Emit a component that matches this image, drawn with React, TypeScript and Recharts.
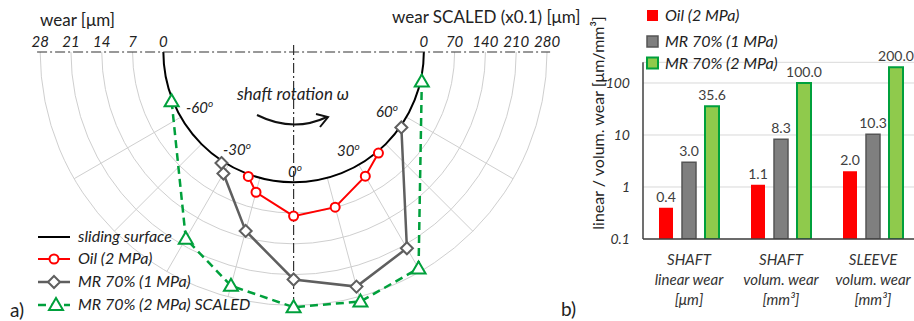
import React from 'react';
import {
  LineChart, Line, XAxis, YAxis, ReferenceLine, RadarChart, PolarGrid,
  BarChart, Bar, CartesianGrid, LabelList,
} from 'recharts';

const FONT = 'Lato, "Open Sans", sans-serif';

// polar wear plot: angle from the bottom (deg), wear outward from the sliding surface
const R0 = 29.6; // sliding surface radius, in wear units
const PX = 4.4; // px per wear unit
const CX = 293.6;
const CY = 52;
const LW = 600;
const H = 321;

const wearTicks = [28, 21, 14, 7, 0];
const scaledTicks = [0, 70, 140, 210, 280];
const gridRings = [7, 14, 21, 28];
const spokeAngles = [-60, -45, -30, -15, 15, 30, 45, 60];

const oilAngle = [-20, -15, 0, 15, 30, 40];
const oilWear = [0.5, 3.4, 7.7, 6.9, 3.0, 0.4];
const mr1Angle = [-33, -30, -15, 0, 15, 30, 55];
const mr1Wear = [0.5, 2.3, 12.5, 22.1, 25.6, 21.9, 0.3];
const mr2Angle = [-68, -30, -15, 0, 15, 30, 77];
const mr2WearScaled = [3, 194, 254, 284, 291, 272, 3];

// bar chart
const catLine1 = ['SHAFT', 'SHAFT', 'SLEEVE'];
const catLine2 = ['linear wear', 'volum. wear', 'volum. wear'];
const catLine3 = ['[μm]', '[mm³]', '[mm³]'];
const oilBar = [0.4, 1.1, 2.0];
const mr1Bar = [3.0, 8.3, 10.3];
const mr2Bar = [35.6, 100.0, 200.0];
const logTicks = [0.1, 1, 10, 100];
const logTickText = ['0.1', '1', '10', '100'];

const toXY = (angles: number[], wear: number[], k = 1) =>
  angles.map((a, i) => {
    const r = R0 + wear[i] * k;
    const t = (a * Math.PI) / 180;
    return { x: r * Math.sin(t), y: -r * Math.cos(t) };
  });

const oilData = toXY(oilAngle, oilWear);
const mr1Data = toXY(mr1Angle, mr1Wear);
const mr2Data = toXY(mr2Angle, mr2WearScaled, 0.1);

const topTicks = [...wearTicks.map((w) => -(R0 + w)), ...scaledTicks.map((w) => R0 + w / 10)];
const topTickText = [...wearTicks, ...scaledTicks].map(String);

const barData = catLine1.map((c, i) => ({
  cat: `${c} ${catLine2[i]}`,
  oil: oilBar[i],
  mr1: mr1Bar[i],
  mr2: mr2Bar[i],
}));

const RED = '#ff0000';
const GRAY = '#5f5f5f';
const GREEN = '#00a03c';

const Circle = (p: any) => (
  <circle key={p.index} cx={p.cx} cy={p.cy} r={4.5} fill="#fff" stroke={RED} strokeWidth={2} />
);
const Diamond = (p: any) => (
  <polygon
    key={p.index}
    points={`${p.cx},${p.cy - 6} ${p.cx + 6},${p.cy} ${p.cx},${p.cy + 6} ${p.cx - 6},${p.cy}`}
    fill="#fff" stroke={GRAY} strokeWidth={2}
  />
);
const Triangle = (p: any) => (
  <polygon
    key={p.index}
    points={`${p.cx},${p.cy - 7} ${p.cx + 7},${p.cy + 5} ${p.cx - 7},${p.cy + 5}`}
    fill="#fff" stroke={GREEN} strokeWidth={2}
  />
);

const CatTick = (props: any) => {
  const { x, y, index } = props;
  return (
    <g>
      {[catLine1, catLine2, catLine3].map((arr, k) => (
        <text key={k} x={x} y={y + 26 + k * 20} textAnchor="middle" fontSize={15}
          fontStyle="italic" fill="#333" fontFamily={FONT}>
          {arr[index]}
        </text>
      ))}
    </g>
  );
};

const deg = (x: number, y: number, s: string) => (
  <text x={x} y={y} fontSize={15} fontStyle="italic" fill="#222">
    {s}
    <tspan dy={-6} fontSize={10}>o</tspan>
  </text>
);

export default function App() {
  const dashDot = '10 3 2 3';
  return (
    <div style={{ position: 'fixed', left: 0, top: 0, width: 914, height: H, overflow: 'hidden', background: '#fff', fontFamily: FONT }}>
      {/* polar grid + sliding surface */}
      <div style={{ position: 'absolute', left: 0, top: CY, width: LW, height: H - CY, overflow: 'hidden' }}>
        <RadarChart width={LW} height={H - CY} cx={CX} cy={0} innerRadius={R0 * PX}
          outerRadius={(R0 + 28) * PX} margin={{ top: 0, right: 0, bottom: 0, left: 0 }} data={[{ a: 1 }]}>
          <PolarGrid gridType="circle" polarRadius={gridRings.map((w) => (R0 + w) * PX)}
            polarAngles={spokeAngles.map((a) => a - 90)} stroke="#cfcfcf" strokeWidth={1} />
          <PolarGrid gridType="circle" polarRadius={[R0 * PX]} polarAngles={[]} radialLines={false}
            stroke="#000" strokeWidth={2} />
        </RadarChart>
      </div>

      {/* wear profiles */}
      <div style={{ position: 'absolute', left: 0, top: 0 }}>
        <LineChart width={LW} height={H} margin={{ top: 0, right: 0, bottom: 0, left: 0 }}>
          <XAxis type="number" dataKey="x" orientation="top" height={CY}
            domain={[-CX / PX, (LW - CX) / PX]} allowDataOverflow ticks={topTicks} interval={0}
            axisLine={false} tickLine={false} tickSize={0} tickMargin={5}
            tick={{ fontSize: 15, fontStyle: 'italic', fill: '#222', fontFamily: FONT }}
            tickFormatter={(v: number) => topTickText[topTicks.findIndex((t) => Math.abs(t - v) < 1e-6)]} />
          <YAxis type="number" dataKey="y" hide domain={[-(H - CY) / PX, 0]} allowDataOverflow />
          <ReferenceLine segment={[{ x: -58.3, y: 0 }, { x: 58.3, y: 0 }]} stroke="#333"
            strokeWidth={1.2} strokeDasharray={dashDot} ifOverflow="visible" />
          <ReferenceLine segment={[{ x: 0, y: 1.6 }, { x: 0, y: -58.2 }]} stroke="#333"
            strokeWidth={1.2} strokeDasharray={dashDot} ifOverflow="visible" />
          <Line data={mr2Data} dataKey="y" type="linear" stroke={GREEN} strokeWidth={2.5}
            strokeDasharray="8 5" dot={Triangle} activeDot={false} isAnimationActive={false} />
          <Line data={mr1Data} dataKey="y" type="linear" stroke={GRAY} strokeWidth={2.5}
            dot={Diamond} activeDot={false} isAnimationActive={false} />
          <Line data={oilData} dataKey="y" type="linear" stroke={RED} strokeWidth={2}
            dot={Circle} activeDot={false} isAnimationActive={false} />
        </LineChart>
      </div>

      {/* bar chart */}
      <div style={{ position: 'absolute', left: 580, top: 0 }}>
        <BarChart width={340} height={H} data={barData} barSize={14} barGap={9}
          margin={{ top: 62.3, right: 1, bottom: 0, left: 0 }}>
          <CartesianGrid vertical={false} stroke="#d9d9d9" />
          <XAxis dataKey="cat" axisLine={{ stroke: '#404040', strokeWidth: 1.5 }} tickLine={false}
            tickSize={0} tickMargin={0} interval={0} tick={<CatTick />} height={H - 239} />
          <YAxis scale="log" domain={[0.1, 250]} allowDataOverflow ticks={logTicks} interval={0} width={63}
            axisLine={{ stroke: '#404040', strokeWidth: 1.5 }} tickLine={false} tickSize={0} tickMargin={13}
            tick={{ fontSize: 14, fontStyle: 'italic', fill: '#333', fontFamily: FONT }}
            tickFormatter={(v: number) => logTickText[logTicks.indexOf(v)]} />
          <Bar dataKey="oil" fill={RED} isAnimationActive={false}>
            <LabelList dataKey="oil" position="top" offset={6} fill="#404040" fontSize={14}
              fontFamily={FONT} formatter={(v: any) => Number(v).toFixed(1)} />
          </Bar>
          <Bar dataKey="mr1" fill="#7f7f7f" stroke="#555" strokeWidth={1.5} isAnimationActive={false}>
            <LabelList dataKey="mr1" position="top" offset={6} fill="#404040" fontSize={14}
              fontFamily={FONT} formatter={(v: any) => Number(v).toFixed(1)} />
          </Bar>
          <Bar dataKey="mr2" fill="#8fca4c" stroke={GREEN} strokeWidth={2} isAnimationActive={false}>
            <LabelList dataKey="mr2" position="top" offset={6} fill="#404040" fontSize={14}
              fontFamily={FONT} formatter={(v: any) => Number(v).toFixed(1)} />
          </Bar>
        </BarChart>
      </div>

      {/* annotations */}
      <svg width={914} height={H} style={{ position: 'absolute', left: 0, top: 0, pointerEvents: 'none' }}
        fontFamily={FONT}>
        <text x={40} y={26} fontSize={17} fill="#222">wear [μm]</text>
        <text x={392} y={23} fontSize={17} fill="#222">wear SCALED (x0.1) [μm]</text>
        <text x={237} y={100} fontSize={17} fontStyle="italic" fill="#222">shaft rotation ω</text>
        <path d="M 257 115 Q 293 133 327 117" fill="none" stroke="#111" strokeWidth={2} />
        <path d="M 316 114 L 328 117 L 320 127" fill="none" stroke="#111" strokeWidth={2} />
        {deg(186, 113, '-60')}
        {deg(223, 155, '-30')}
        {deg(288, 177, '0')}
        {deg(337, 156, '30')}
        {deg(376, 117, '60')}

        {/* left legend */}
        <line x1={38} y1={237} x2={70} y2={237} stroke="#000" strokeWidth={2} />
        <text x={78} y={242} fontSize={16} fontStyle="italic" fill="#222">sliding surface</text>
        <line x1={38} y1={259} x2={70} y2={259} stroke={RED} strokeWidth={2} />
        <circle cx={54} cy={259} r={4.5} fill="#fff" stroke={RED} strokeWidth={2} />
        <text x={78} y={264} fontSize={16} fontStyle="italic" fill="#222">Oil (2 MPa)</text>
        <line x1={38} y1={282} x2={70} y2={282} stroke={GRAY} strokeWidth={2.5} />
        <polygon points="54,276 60,282 54,288 48,282" fill="#fff" stroke={GRAY} strokeWidth={2} />
        <text x={78} y={287} fontSize={16} fontStyle="italic" fill="#222">MR 70% (1 MPa)</text>
        <line x1={38} y1={305} x2={70} y2={305} stroke={GREEN} strokeWidth={2.5} strokeDasharray="8 5" />
        <polygon points="56,298 63,310 49,310" fill="#fff" stroke={GREEN} strokeWidth={2} />
        <text x={78} y={310} fontSize={16} fontStyle="italic" fill="#222">MR 70% (2 MPa) SCALED</text>
        <text x={10} y={317} fontSize={19} fill="#222">a)</text>
        <text x={561} y={316} fontSize={19} fill="#222">b)</text>

        {/* right legend + axis title */}
        <rect x={647} y={10} width={11} height={11} fill={RED} />
        <text x={665} y={21} fontSize={16} fontStyle="italic" fill="#222">Oil (2 MPa)</text>
        <rect x={647} y={36} width={11} height={11} fill="#7f7f7f" stroke="#555" strokeWidth={1.5} />
        <text x={665} y={47} fontSize={16} fontStyle="italic" fill="#222">MR 70% (1 MPa)</text>
        <rect x={647} y={57.5} width={11} height={11} fill="#8fca4c" stroke={GREEN} strokeWidth={2} />
        <text x={665} y={69} fontSize={16} fontStyle="italic" fill="#222">MR 70% (2 MPa)</text>
        <text x={597} y={123} fontSize={16} fill="#222" textAnchor="middle" dominantBaseline="central"
          transform="rotate(-90 597 123)">linear / volum. wear [μm/mm³]</text>
      </svg>
    </div>
  );
}
